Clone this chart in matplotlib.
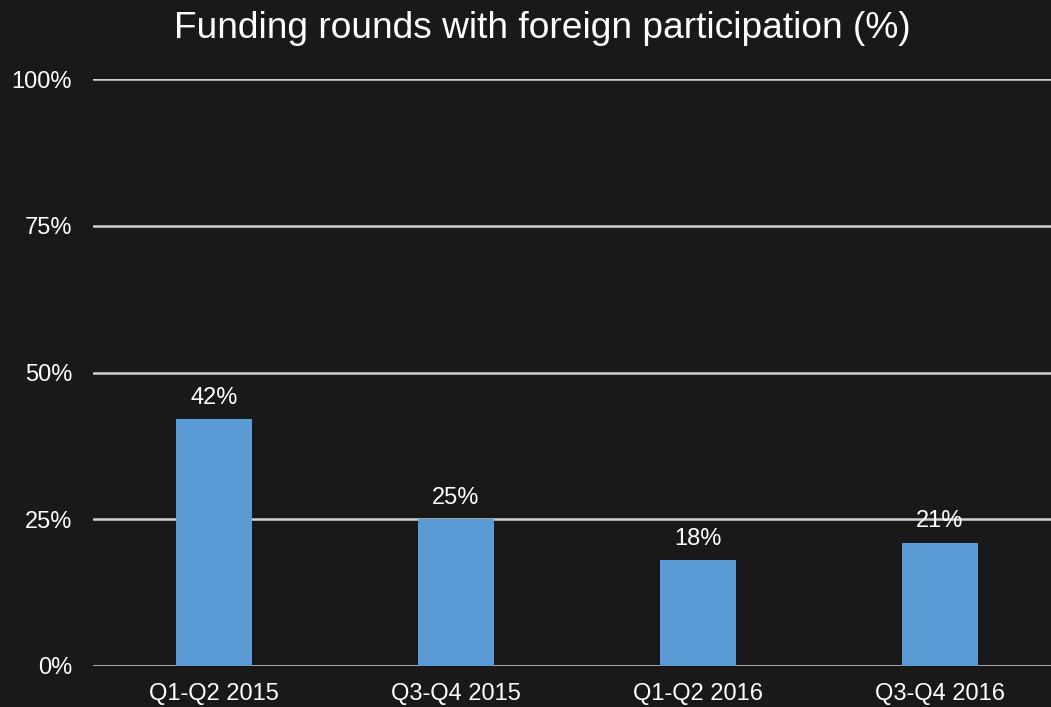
import matplotlib.pyplot as plt

categories = ['Q1-Q2 2015', 'Q3-Q4 2015', 'Q1-Q2 2016', 'Q3-Q4 2016']
values = [42, 25, 18, 21]
yticks = [0, 25, 50, 75, 100]

bg = '#191919'
bar_color = '#5b9bd5'
grid_color = '#d0d0d0'

plt.rcParams['font.family'] = ['Liberation Sans', 'DejaVu Sans']

fig = plt.figure(figsize=(10.51, 7.07), dpi=100, facecolor=bg)
# axes spans past the right edge like the original
ax = fig.add_axes([93 / 1051, 41 / 707, 968 / 1051, 587 / 707])
ax.set_facecolor(bg)

x = range(len(categories))
ax.bar(x, values, width=0.314, color=bar_color, zorder=3)
for xi, v in zip(x, values):
    ax.text(xi, v + 1.8, f'{v}%', ha='center', va='bottom', color='white',
            fontsize=17, zorder=4)

ax.set_xlim(-0.5, len(categories) - 0.5)
ax.set_ylim(0, 100)
ax.set_yticks(yticks)
ax.set_yticklabels([f'{t}%' for t in yticks])
ax.set_xticks(list(x))
ax.set_xticklabels(categories)
ax.tick_params(colors='white', labelsize=17, length=0)
ax.tick_params(axis='x', pad=12)
ax.tick_params(axis='y', pad=15)

ax.grid(axis='y', color=grid_color, linewidth=1.8, zorder=1)
for s in ax.spines.values():
    s.set_visible(False)

fig.text(542 / 1051, 1 - 28 / 707, 'Funding rounds with foreign participation (%)',
         ha='center', va='center', color='white', fontsize=26.7)

fig.savefig('out.png', dpi=100, facecolor=bg)
